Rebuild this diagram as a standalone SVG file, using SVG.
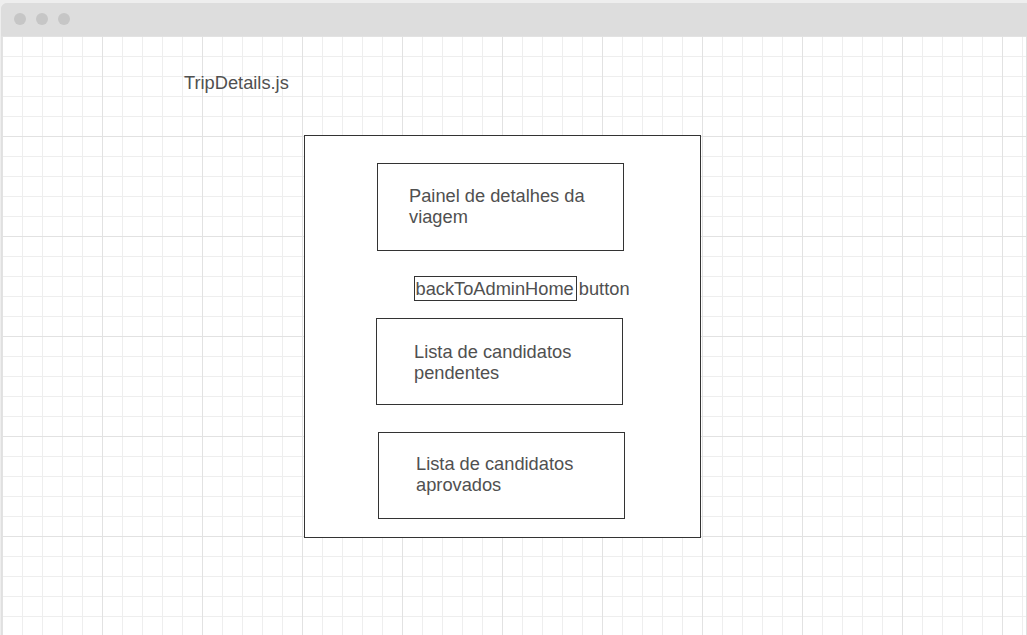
<svg xmlns="http://www.w3.org/2000/svg" width="1027" height="635" viewBox="0 0 1027 635">
<style>
.box{fill:#ffffff;stroke:#333333;stroke-width:1}
.lbl{font-family:"Liberation Sans",Arial,sans-serif;font-size:18.25px;fill:#505050}
.minor{stroke:#eeeeee;stroke-width:1}
.major{stroke:#e2e2e2;stroke-width:1}
</style>
<defs>
<pattern id="grid" patternUnits="userSpaceOnUse" x="2" y="36" width="100" height="100">
<rect width="100" height="100" fill="#ffffff"/>
<path class="minor" d="M20.5 0V100M40.5 0V100M60.5 0V100M80.5 0V100M0 20.5H100M0 40.5H100M0 60.5H100M0 80.5H100"/>
<path class="major" d="M0.5 0V100M0 0.5H100"/>
</pattern>
</defs>
<rect width="1027" height="635" fill="#eeeeee"/>
<g id="window">
<rect x="1.5" y="3.5" width="1030" height="640" rx="6" fill="#ffffff" stroke="#e0e0e0"/>
<path d="M1 36V9.5A6 6 0 0 1 7 3H1027V36Z" fill="#dddddd"/>
<rect x="2" y="36" width="1024" height="600" fill="url(#grid)"/>
<line x1="1026.5" y1="36" x2="1026.5" y2="635" stroke="#e0e0e0"/>
<circle cx="20" cy="19" r="6" fill="#c6c6c6"/>
<circle cx="42" cy="19" r="6" fill="#c6c6c6"/>
<circle cx="64" cy="19" r="6" fill="#c6c6c6"/>
</g>
<g id="title">
<text class="lbl" x="184" y="89">TripDetails.js</text>
</g>
<g id="container">
<rect class="box" x="304.5" y="135.5" width="396" height="402"/>
</g>
<g id="painel">
<rect class="box" x="377.5" y="163.5" width="246" height="87"/>
<text class="lbl" x="409" y="202">Painel de detalhes da</text>
<text class="lbl" x="409" y="223">viagem</text>
</g>
<g id="backButton">
<rect class="box" x="414.5" y="276.5" width="162" height="24" fill="none"/>
<text class="lbl" x="415.5" y="295">backToAdminHome button</text>
</g>
<g id="pendentes">
<rect class="box" x="376.5" y="318.5" width="246" height="86"/>
<text class="lbl" x="414" y="358">Lista de candidatos</text>
<text class="lbl" x="414" y="379">pendentes</text>
</g>
<g id="aprovados">
<rect class="box" x="378.5" y="432.5" width="246" height="86"/>
<text class="lbl" x="416" y="470">Lista de candidatos</text>
<text class="lbl" x="416" y="491">aprovados</text>
</g>
<g id="connectors"/>
</svg>
